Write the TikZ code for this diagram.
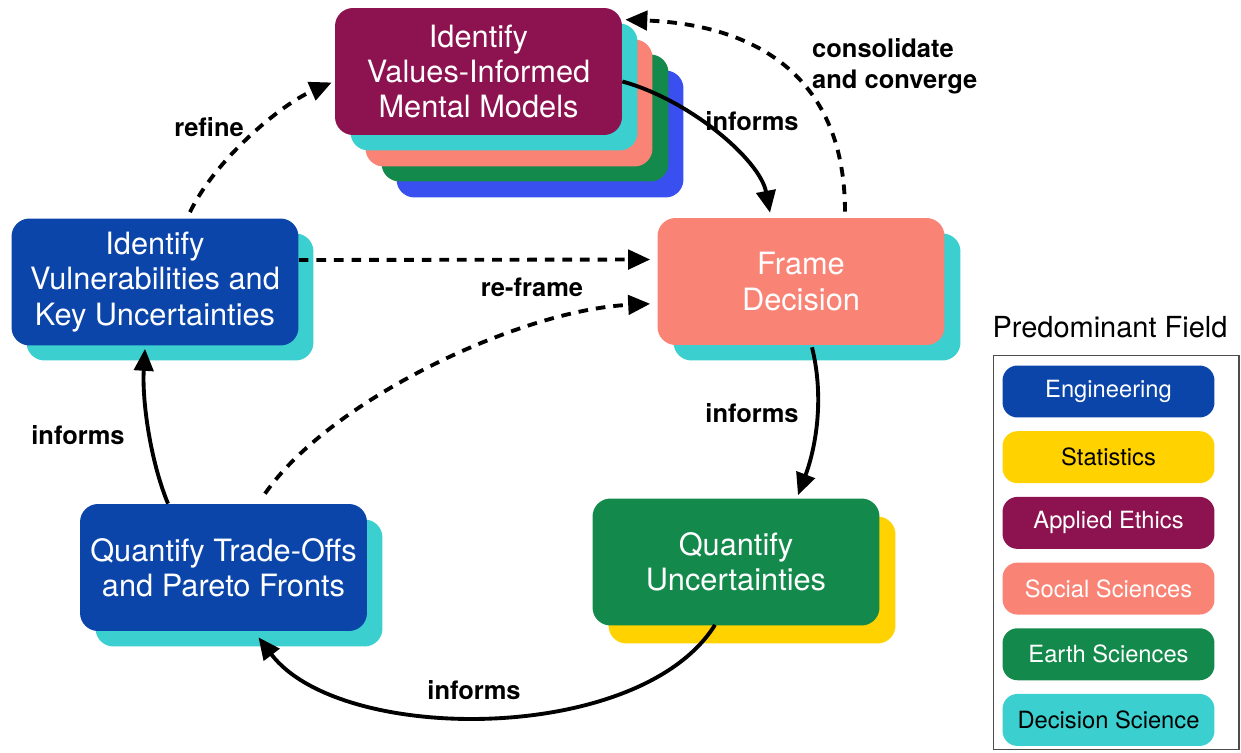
\documentclass[tikz,border=0pt]{standalone}
\usepackage{fontspec}
\setmainfont{TeX Gyre Heros}
\usetikzlibrary{positioning,arrows.meta}
\definecolor{engblue}{HTML}{0B45AA}
\definecolor{brightblue}{HTML}{3A4FF0}
\definecolor{statyellow}{HTML}{FFD200}
\definecolor{ethicsred}{HTML}{8C1350}
\definecolor{socialpink}{HTML}{F98375}
\definecolor{earthgreen}{HTML}{138A4C}
\definecolor{decisioncyan}{HTML}{3CCFCF}
\newcommand{\lblfont}{\fontsize{14.5}{17.5}\selectfont\bfseries}

\begin{document}
\begin{tikzpicture}[x=0.02cm, y=-0.02cm,
	backbox/.style={rectangle, rounded corners=0.36cm, minimum width=5.74cm, minimum height=2.54cm},
	fieldbox/.style={backbox, align=center, text=white, font=\fontsize{17.5}{20}\selectfont},
	legbox/.style={rectangle, rounded corners=0.3cm, minimum width=4.24cm, minimum height=1.04cm, font=\fontsize{13.5}{16}\selectfont},
	flow/.style={line width=2.2pt, -{Triangle[length=12.5pt,width=11pt]}},
	backflow/.style={flow, dash pattern=on 5.5pt off 4.5pt},
	lbl/.style={font=\lblfont}]
	\useasboundingbox (0,0) rectangle (1241,753);

	\node[backbox, fill=brightblue] (vim-b4) at (540,134) {};
	\node[backbox, fill=earthgreen] (vim-b3) at (525,118) {};
	\node[backbox, fill=socialpink] (vim-b2) at (509,103) {};
	\node[backbox, fill=decisioncyan] (vim-b1) at (494,87) {};
	\node[fieldbox, fill=ethicsred] (vim) at (478.5,71.5) {Identify\\Values-Informed\\Mental Models};

	\node[backbox, fill=decisioncyan] (fd-b) at (817,297) {};
	\node[fieldbox, fill=socialpink] (fd) at (801,281.5) {Frame\\Decision};

	\node[backbox, fill=decisioncyan] (vul-b) at (170,297) {};
	\node[fieldbox, fill=engblue] (vul) at (155,282) {Identify\\Vulnerabilities and\\Key Uncertainties};

	\node[backbox, fill=statyellow] (qu-b) at (752,580) {};
	\node[fieldbox, fill=earthgreen] (qu) at (736,562) {Quantify\\Uncertainties};

	\node[backbox, fill=decisioncyan] (to-b) at (239,583) {};
	\node[fieldbox, fill=engblue] (to) at (223.5,567.5) {Quantify Trade-Offs\\and Pareto Fronts};

	\draw[flow] ([yshift=-0.2cm]vim.east) .. controls (690,100) and (760,160) .. ([xshift=-0.62cm,yshift=0.1cm]fd.north);
	\draw[backflow] ([xshift=0.88cm,yshift=0.12cm]fd.north) .. controls (845,80) and (760,25) .. ([xshift=0.06cm,yshift=-0.24cm]vim.north east);
	\draw[backflow] ([xshift=0.7cm,yshift=0.12cm]vul.north) .. controls (215,160) and (280,105) .. ([xshift=-0.06cm,yshift=-0.22cm]vim.west);
	\draw[backflow, shorten >=4pt] ([yshift=0.44cm]vul.east) -- ([yshift=0.44cm]fd.west);
	\draw[backflow, shorten >=4pt] ([xshift=0.83cm,yshift=0.2cm]to.north) .. controls (330,400) and (520,310) .. ([yshift=-0.44cm]fd.west);
	\draw[flow] ([xshift=0.22cm,yshift=-0.04cm]fd.south) .. controls (825,400) and (815,450) .. ([xshift=1.24cm,yshift=0.06cm]qu.north);
	\draw[flow] ([xshift=-0.42cm,yshift=0.02cm]qu.south) .. controls (640,745) and (340,745) .. ([xshift=0.7cm,yshift=-0.12cm]to.south);
	\draw[flow] ([xshift=-1.11cm]to.north) .. controls (150,460) and (142,400) .. ([xshift=-0.2cm,yshift=-0.06cm]vul.south);

	\node[lbl] (lbl-a) at (752,121) {informs};
	\node[lbl, anchor=west, align=left] (lbl-b) at (806,66) {consolidate\\and converge};
	\node[lbl] (lbl-c) at (209,127) {refine};
	\node[lbl] (lbl-d) at (532,287) {re-frame};
	\node[lbl] (lbl-e) at (752,413) {informs};
	\node[lbl] (lbl-f) at (474,690) {informs};
	\node[lbl] (lbl-g) at (78,435) {informs};

	\node[font=\fontsize{16.5}{20}\selectfont] (legtitle) at (1110,327) {Predominant Field};
	\node[draw=black!70, line width=0.6pt, minimum width=4.92cm, minimum height=7.9cm] (legframe) at (1116,552.5) {};
	\node[legbox, fill=engblue, text=white] (eng) at (1108.5,391.5) {Engineering};
	\node[legbox, fill=statyellow, below=0.26cm of eng] (stat) {Statistics};
	\node[legbox, fill=ethicsred, text=white, below=0.26cm of stat] (ethics) {Applied Ethics};
	\node[legbox, fill=socialpink, text=white, below=0.26cm of ethics] (social) {Social Sciences};
	\node[legbox, fill=earthgreen, text=white, below=0.26cm of social] (earth) {Earth Sciences};
	\node[legbox, fill=decisioncyan, below=0.26cm of earth] (decision) {Decision Science};
\end{tikzpicture}
\end{document}
